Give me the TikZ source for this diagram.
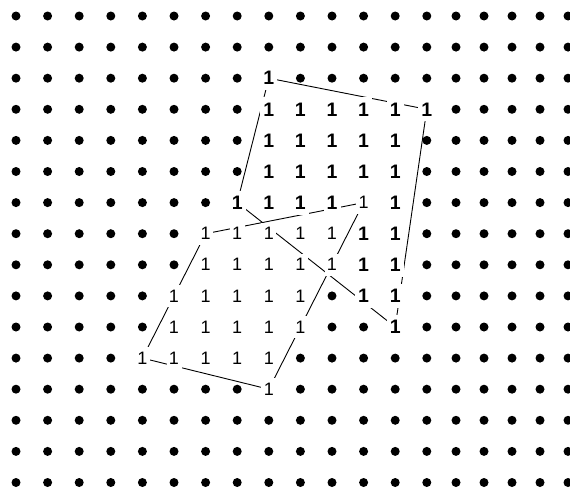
\documentclass[tikz,border=0pt]{standalone}
\usepackage{fontspec}
\setmainfont{Liberation Sans}
\usetikzlibrary{backgrounds}
\tikzset{
  griddot/.style={circle, fill=black, inner sep=0pt, minimum size=9pt},
  boldone/.style={rectangle, fill=white, inner sep=0pt, minimum width=17pt,
    minimum height=24pt, font=\fontsize{19.5}{21}\selectfont\bfseries},
  thinone/.style={rectangle, fill=white, inner sep=0pt, minimum width=15pt,
    minimum height=22pt, font=\fontsize{18}{20}\selectfont},
  quadline/.style={black, line width=0.9pt}
}
% cells of the source block (bold) and of the moved block (thin)
\newcommand{\markcell}[3]{\expandafter\gdef\csname cell#1-#2-#3\endcsname{}}

\begin{document}
\begin{tikzpicture}[x=1pt, y=-1pt]
  \useasboundingbox (0,0) rectangle (570,490);

  \foreach \c/\r in {8/2, 8/3, 9/3, 10/3, 11/3, 12/3, 13/3,
      8/4, 9/4, 10/4, 11/4, 12/4, 8/5, 9/5, 10/5, 11/5, 12/5,
      7/6, 8/6, 9/6, 10/6, 12/6, 11/7, 12/7, 11/8, 12/8,
      11/9, 12/9, 12/10}
    {\markcell{B}{\c}{\r}}
  \foreach \c/\r in {11/6, 6/7, 7/7, 8/7, 9/7, 10/7, 6/8, 7/8, 8/8, 9/8, 10/8,
      5/9, 6/9, 7/9, 8/9, 9/9, 5/10, 6/10, 7/10, 8/10, 9/10,
      4/11, 5/11, 6/11, 7/11, 8/11, 8/12}
    {\markcell{T}{\c}{\r}}

  % grid
  \foreach \x [count=\c from 0] in {16,47.6,79.2,110.8,142.4,174,205.6,237.2,
      268.8,300.4,332,363.6,395.2,426.8,456,484,512,540,568}
    \foreach \r in {0,...,15} {
      \pgfmathsetmacro\y{16+31.1*\r}
      \ifcsname cellB-\c-\r\endcsname
        \node[boldone] (g-\c-\r) at (\x,\y) {1};
      \else\ifcsname cellT-\c-\r\endcsname
        \node[thinone] (g-\c-\r) at (\x,\y) {1};
      \else
        \node[griddot] (g-\c-\r) at (\x,\y) {};
      \fi\fi
    }

  \begin{scope}[on background layer]
    \draw[quadline] (g-8-2.center) -- (g-13-3.center) -- (g-12-10.center)
      -- (g-7-6.center) -- cycle;
    \draw[quadline] (g-6-7.center) -- (g-11-6.center) -- (g-8-12.center)
      -- (g-4-11.center) -- cycle;
  \end{scope}
\end{tikzpicture}
\end{document}
